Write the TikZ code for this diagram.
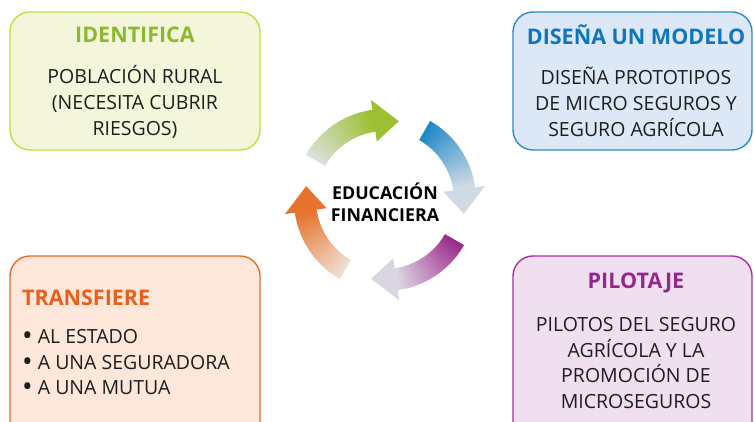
\documentclass[tikz,border=0pt]{standalone}
\usepackage{fontspec}
\setmainfont{Open Sans}
\usetikzlibrary{positioning}

\definecolor{idline}{HTML}{C9DA3A}
\definecolor{idfill}{HTML}{F4F6DC}
\definecolor{idhead}{HTML}{8AB92D}
\definecolor{dmline}{HTML}{2E8BCB}
\definecolor{dmfill}{HTML}{DCE8F5}
\definecolor{dmhead}{HTML}{0F75BC}
\definecolor{trline}{HTML}{EA6B25}
\definecolor{trfill}{HTML}{FCE7DA}
\definecolor{trhead}{HTML}{E8601C}
\definecolor{plline}{HTML}{A8329A}
\definecolor{plfill}{HTML}{F0E0EF}
\definecolor{plhead}{HTML}{93278F}
\definecolor{bodytext}{HTML}{1E1E1E}
% circle arrows
\definecolor{grarrow}{HTML}{9CC033}
\definecolor{grpale}{HTML}{DCE1DA}
\definecolor{blarrow}{HTML}{1E88C8}
\definecolor{blpale}{HTML}{CFDAE5}
\definecolor{puarrow}{HTML}{9D2A8A}
\definecolor{pupale}{HTML}{DAD5E2}
\definecolor{orarrow}{HTML}{E6742E}
\definecolor{orpale}{HTML}{F0DED3}

\newcommand{\bigdot}{\raisebox{-0.1em}{\scalebox{1.45}{\textbullet}}}

\begin{document}
\begin{tikzpicture}[x=1pt,y=1pt,
  box/.style={draw,rounded corners=20pt,line width=1.4pt},
  title/.style={font=\bfseries\fontsize{21.5}{24}\selectfont},
  body/.style={align=center,text=bodytext,font=\fontsize{19.5}{25.8}\selectfont},
  list/.style={align=left,text=bodytext,font=\fontsize{19.5}{25.8}\selectfont}]
\useasboundingbox (0,0) rectangle (754,422);

\node[box,draw=idline,fill=idfill,minimum width=250pt,minimum height=138pt] (idbox) at (135,341) {};
\node[box,draw=dmline,fill=dmfill,minimum width=239pt,minimum height=138pt] (dmbox) at (632.5,341) {};
\node[box,draw=trline,fill=trfill,minimum width=250pt,minimum height=190pt] (trbox) at (135,71) {};
\node[box,draw=plline,fill=plfill,minimum width=239pt,minimum height=190pt] (plbox) at (632.5,71) {};

\node[title,text=idhead] (idtitle) at (135,387) {IDENTIFICA};
\node[body] (idtext) at (135,320) {POBLACIÓN RURAL\\(NECESITA CUBRIR\\RIESGOS)};

\node[title,text=dmhead] (dmtitle) at (636,387) {DISEÑA UN MODELO};
\node[body] (dmtext) at (636,320) {DISEÑA PROTOTIPOS\\DE MICRO SEGUROS Y\\SEGURO AGRÍCOLA};

\node[title,text=trhead,anchor=west,inner sep=0pt] (trtitle) at (22,124) {TRANSFIERE};
\node[list,anchor=west,inner sep=0pt] (trtext) at (22,59) {\bigdot\ AL ESTADO\\\bigdot\ A UNA SEGURADORA\\\bigdot\ A UNA MUTUA};

\node[title,text=plhead] (pltitle) at (636,139) {PILOTAJE};
\node[body] (pltext) at (636,59) {PILOTOS DEL SEGURO\\AGRÍCOLA Y LA\\PROMOCIÓN DE\\MICROSEGUROS};

\node[align=center,font=\bfseries\fontsize{17.8}{22}\selectfont] (edu) at (385,220) {EDUCACIÓN\\FINANCIERA};

% four arrows round the centre, shaft fades from \ca to \cb
\begin{scope}[shift={(385,222)}]
\foreach \s/\e/\ca/\cb in {150/80/grpale/grarrow,60/-10/blarrow/blpale,
  -30/-100/puarrow/pupale,-120/-190/orpale/orarrow}{
  \pgfmathsetmacro\h{\e+18}
  \foreach \i in {0,...,23}{
    \pgfmathsetmacro\aa{\s+(\h-\s)*\i/24+0.3}
    \pgfmathsetmacro\ab{\s+(\h-\s)*(\i+1)/24-0.3}
    \pgfmathtruncatemacro\p{100-100*\i/23}
    \fill[\ca!\p!\cb] (\aa:91) arc[start angle=\aa,end angle=\ab,radius=91]
      -- (\ab:69) arc[start angle=\ab,end angle=\aa,radius=69] -- cycle;
  }
  \fill[\cb] (\h:101) -- (\e:80) -- (\h:59) -- cycle;
}
\end{scope}
\end{tikzpicture}
\end{document}
